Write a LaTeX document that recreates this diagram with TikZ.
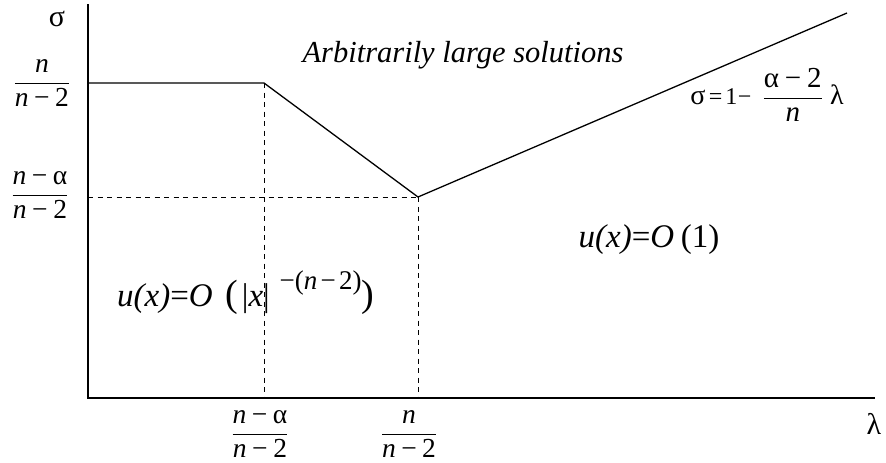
\documentclass[tikz,border=0pt]{standalone}
\usepackage{fontspec}
\setmainfont{Liberation Serif}
\newcommand\mn{\kern0.2em−\kern0.2em}
\newcommand\fr[2]{$\displaystyle{\mbox{#1}\above1.1pt\mbox{#2}}$}
\tikzset{
  axisline/.style={line width=1.9pt},
  curve/.style={line width=1.3pt},
  guide/.style={line width=1pt, dash pattern=on 5pt off 4.5pt},
  lbl/.style={inner sep=0pt, font=\fontsize{27.5}{30}\selectfont},
  big/.style={inner sep=0pt, font=\fontsize{30.5}{34}\selectfont},
  uform/.style={inner sep=0pt, font=\fontsize{33}{36}\selectfont},
  greek/.style={inner sep=0pt, font=\fontsize{30}{34}\selectfont},
}
\begin{document}
\begin{tikzpicture}[x=1pt,y=-1pt]
\useasboundingbox (0,0) rectangle (886,463);
% coordinates
\coordinate (O) at (88,398);
\coordinate (Ytop) at (88,4);
\coordinate (Xend) at (875,398);
\coordinate (A) at (88,83);
\coordinate (B) at (264,83);
\coordinate (C) at (418,197);
\coordinate (D) at (847,13);
\coordinate (Cy) at (88,197);
\coordinate (Bx) at (264,398);
\coordinate (Cx) at (418,398);
% axes
\draw[axisline] (Ytop) -- (O) -- (Xend);
% guides
\draw[guide] (B) -- (Bx);
\draw[guide] (Cy) -- (C);
\draw[guide] (C) -- (Cx);
% boundary
\draw[curve] (A) -- (B) -- (C) -- (D);
% labels
\node[greek] (sigma) at (57,19) {σ};
\node[greek] (lam) at (874,424) {λ};
\node[lbl] (y1) at (42,83) {\fr{\itshape n}{{\itshape n}\mn 2}};
\node[lbl] (y2) at (40,195) {\fr{{\itshape n}\mn α}{{\itshape n}\mn 2}};
\node[lbl] (x1) at (260,434) {\fr{{\itshape n}\mn α}{{\itshape n}\mn 2}};
\node[lbl] (x2) at (409,434) {\fr{\itshape n}{{\itshape n}\mn 2}};
\node[big] (title) at (463,55) {\itshape Arbitrarily large solutions};
\node[inner sep=0pt] (formula) at (767,95) {%
  \fontsize{28}{30}\selectfont σ\kern0.12em{\fontsize{24}{28}\selectfont =\kern0.12em1\kern0.03em−}\kern0.4em%
  \fontsize{29}{32}\selectfont\fr{α\mn 2}{\itshape n}\kern0.25em{\fontsize{28}{30}\selectfont λ}};
\node[uform] (u1) at (649,240) {{\itshape u(x)}={\itshape O}\kern0.2em(1)};
\node[uform,anchor=base west] (u2) at (117,306) {{\itshape u(x)}={\itshape O}\kern0.4em{\fontsize{38}{40}\selectfont(}\kern0.1em|{\itshape x}|\kern0.3em\raisebox{0.5em}{\fontsize{27}{30}\selectfont −({\itshape n}\kern0.12em−\kern0.12em2)}{\fontsize{38}{40}\selectfont)}};
\end{tikzpicture}
\end{document}
